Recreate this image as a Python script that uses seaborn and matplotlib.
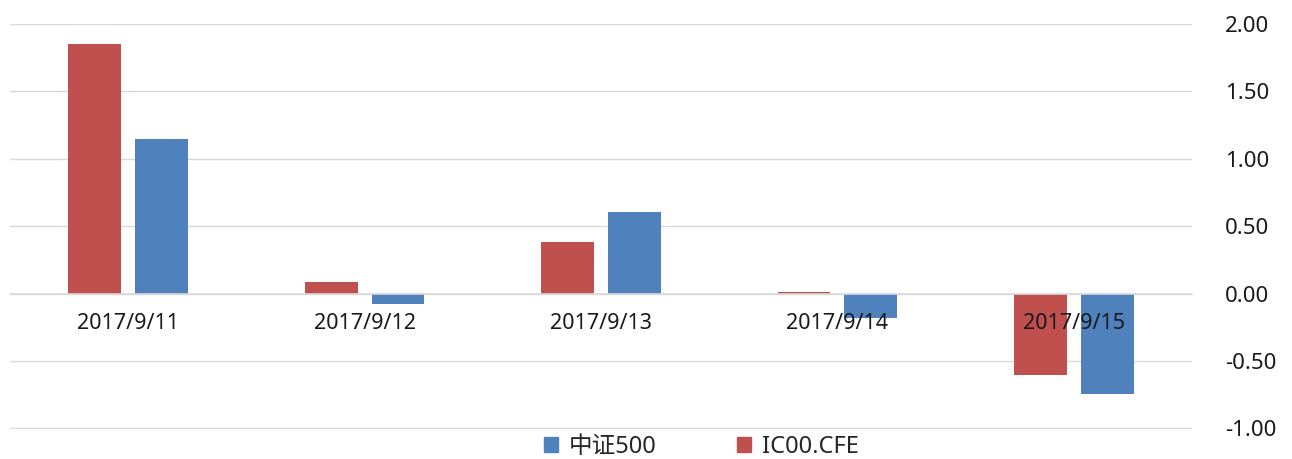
import numpy as np
import pandas as pd
import matplotlib
matplotlib.use("Agg")
import matplotlib.pyplot as plt
import seaborn as sns
from matplotlib.patches import Patch

# --- dados ---
dates = ["2017/9/11", "2017/9/12", "2017/9/13", "2017/9/14", "2017/9/15"]
ic00_cfe = [1.85, 0.09, 0.385, 0.015, -0.605]
zz500 = [1.148, -0.08, 0.607, -0.178, -0.748]
series_names = ["IC00.CFE", "中证500"]
y_ticks = [-1.0, -0.5, 0.0, 0.5, 1.0, 1.5, 2.0]

sns.set_theme(style="white")
plt.rcParams['font.family'] = ['Noto Sans', 'Noto Sans CJK SC']

df = pd.DataFrame({
    "date": dates * 2,
    "value": ic00_cfe + zz500,
    "series": [series_names[0]] * len(dates) + [series_names[1]] * len(dates),
})

colors = {"IC00.CFE": "#C0504D", "中证500": "#4F81BD"}

fig = plt.figure(figsize=(12.92, 4.59), dpi=100)
ax = fig.add_axes([10 / 1292, 1 - 429 / 459, 1182 / 1292, 405 / 459])

sns.barplot(data=df, x="date", y="value", hue="series", hue_order=series_names,
            palette=colors, width=0.566, gap=0.21, ax=ax, legend=False,
            saturation=1, linewidth=0)

ax.set_xlim(-0.5, len(dates) - 0.5)
ax.set_ylim(-1.004, 2.0)
ax.set_yticks(y_ticks)
ax.set_yticklabels([f"{v:.2f}" for v in y_ticks], fontsize=16, color="#1a1a1a")
ax.yaxis.tick_right()
ax.tick_params(axis="y", length=0, pad=24)
ax.grid(axis="y", color="#D9D9D9", linewidth=1.0)
ax.set_axisbelow(True)

# eixo x na linha zero, rótulos por cima das barras
for s in ["top", "right", "left"]:
    ax.spines[s].set_visible(False)
ax.spines["bottom"].set_position(("data", 0))
ax.spines["bottom"].set_color("#D9D9D9")
ax.spines["bottom"].set_linewidth(1.2)
ax.set_xticks(range(len(dates)))
ax.set_xticklabels(dates, fontsize=15.5, color="#1a1a1a")
ax.set_xticks(np.arange(-0.5, len(dates)), minor=True)
ax.tick_params(axis="x", which="major", length=0, pad=14)
ax.tick_params(axis="x", which="minor", length=6, width=1.2, color="#D9D9D9")
ax.xaxis.set_zorder(5)
ax.set_xlabel("")
ax.set_ylabel("")

handles = [Patch(color=colors["中证500"]), Patch(color=colors["IC00.CFE"])]
fig.legend(handles, ["中证500", "IC00.CFE"], loc="center", ncol=2,
           bbox_to_anchor=(0.543, 0.027), frameon=False, fontsize=17,
           handlelength=0.6, handleheight=0.6, handletextpad=0.45,
           columnspacing=3.4)

fig.savefig("out.png", dpi=100)
